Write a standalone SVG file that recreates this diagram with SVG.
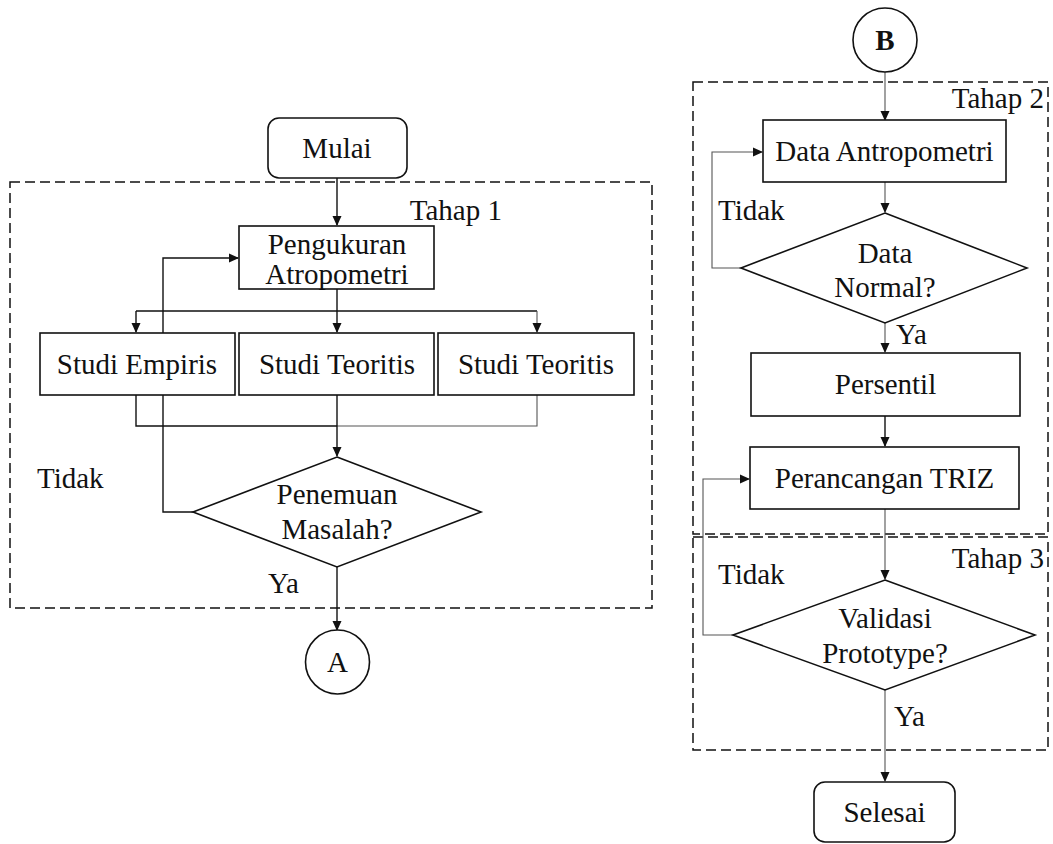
<svg xmlns="http://www.w3.org/2000/svg" width="1053" height="844" viewBox="0 0 1053 844">
<style>
text{font-family:"Liberation Serif","Times New Roman",serif;font-size:29px;fill:#111;text-anchor:middle}
.lbl{text-anchor:start}
.r{text-anchor:end}
.shape{fill:#fff;stroke:#111;stroke-width:1.6}
.stage{fill:none;stroke:#111;stroke-width:1.5;stroke-dasharray:10 5}
.c{fill:none;stroke:#111;stroke-width:1.4}
.g{fill:none;stroke:#555;stroke-width:1.1}
</style>
<defs>
<marker id="ah" markerWidth="10" markerHeight="10" refX="9" refY="5" orient="auto" markerUnits="userSpaceOnUse">
<path d="M0,0.5 L10,5 L0,9.5 z" fill="#111"/>
</marker>
</defs>
<g id="stages">
<rect id="tahap1" class="stage" x="10" y="182" width="642" height="426"/>
<text class="r" x="502" y="220">Tahap 1</text>
<rect id="tahap2" class="stage" x="693" y="82" width="355" height="452"/>
<text class="r" x="1044" y="108">Tahap 2</text>
<rect id="tahap3" class="stage" x="693" y="537" width="355" height="213"/>
<text class="r" x="1044" y="568">Tahap 3</text>
</g>
<g id="connectors">
<path class="c" d="M337,178 V225" marker-end="url(#ah)"/>
<path class="c" d="M337,289 V311 M136,311 H537"/>
<path class="c" d="M136,311 V332" marker-end="url(#ah)"/>
<path class="c" d="M337,311 V332" marker-end="url(#ah)"/>
<path class="g" d="M537,311 V332" marker-end="url(#ah)"/>
<path class="c" d="M136,395 V426 H337"/>
<path class="g" d="M537,395 V426 H337"/>
<path class="c" d="M337,395 V456" marker-end="url(#ah)"/>
<path class="c" d="M193,512 H163 V258 H238" marker-end="url(#ah)"/>
<path class="c" d="M337,567 V630" marker-end="url(#ah)"/>
<path class="g" d="M885,71 V120" marker-end="url(#ah)"/>
<path class="g" d="M885,182 V212" marker-end="url(#ah)"/>
<path class="g" d="M741,268 H712 V152 H762" marker-end="url(#ah)"/>
<path class="g" d="M885,323 V352" marker-end="url(#ah)"/>
<path class="c" d="M885,416 V446" marker-end="url(#ah)"/>
<path class="g" d="M885,509 V579" marker-end="url(#ah)"/>
<path class="g" d="M733,635 H703 V479 H749" marker-end="url(#ah)"/>
<path class="g" d="M885,690 V781" marker-end="url(#ah)"/>
<text class="lbl" x="37" y="488">Tidak</text>
<text class="lbl" x="268" y="593">Ya</text>
<text class="lbl" x="718" y="220">Tidak</text>
<text class="lbl" x="896" y="344">Ya</text>
<text class="lbl" x="718" y="584">Tidak</text>
<text class="lbl" x="894" y="726">Ya</text>
</g>
<g id="mulai">
<rect class="shape" x="268" y="118" width="139" height="60" rx="11"/>
<text x="337" y="158">Mulai</text>
</g>
<g id="pengukuran">
<rect class="shape" x="239" y="226" width="195" height="63"/>
<text x="337" y="254">Pengukuran</text>
<text x="337" y="284">Atropometri</text>
</g>
<g id="studi-empiris">
<rect class="shape" x="40" y="333" width="195" height="62"/>
<text x="137" y="374">Studi Empiris</text>
</g>
<g id="studi-teoritis-1">
<rect class="shape" x="239" y="333" width="195" height="62"/>
<text x="337" y="374">Studi Teoritis</text>
</g>
<g id="studi-teoritis-2">
<rect class="shape" x="438" y="333" width="196" height="62"/>
<text x="536" y="374">Studi Teoritis</text>
</g>
<g id="penemuan">
<polygon class="shape" points="337,457 481,512 337,567 193,512"/>
<text x="337" y="504">Penemuan</text>
<text x="337" y="539">Masalah?</text>
</g>
<g id="conn-a">
<circle class="shape" cx="337.5" cy="662" r="32"/>
<text x="337.5" y="672">A</text>
</g>
<g id="conn-b">
<circle class="shape" cx="885" cy="40" r="32"/>
<text x="885" y="50" font-weight="bold">B</text>
</g>
<g id="data-antropometri">
<rect class="shape" x="763" y="120" width="243" height="62"/>
<text x="884.5" y="161">Data Antropometri</text>
</g>
<g id="data-normal">
<polygon class="shape" points="885,213 1027,268 885,323 741,268"/>
<text x="885" y="263">Data</text>
<text x="885" y="297">Normal?</text>
</g>
<g id="persentil">
<rect class="shape" x="751" y="353" width="269" height="63"/>
<text x="885.5" y="394">Persentil</text>
</g>
<g id="perancangan">
<rect class="shape" x="750" y="447" width="269" height="62"/>
<text x="884.5" y="488">Perancangan TRIZ</text>
</g>
<g id="validasi">
<polygon class="shape" points="885,580 1035,635 885,690 733,635"/>
<text x="885" y="628">Validasi</text>
<text x="885" y="663">Prototype?</text>
</g>
<g id="selesai">
<rect class="shape" x="814" y="782" width="141" height="60" rx="11"/>
<text x="884.5" y="822">Selesai</text>
</g>
</svg>
